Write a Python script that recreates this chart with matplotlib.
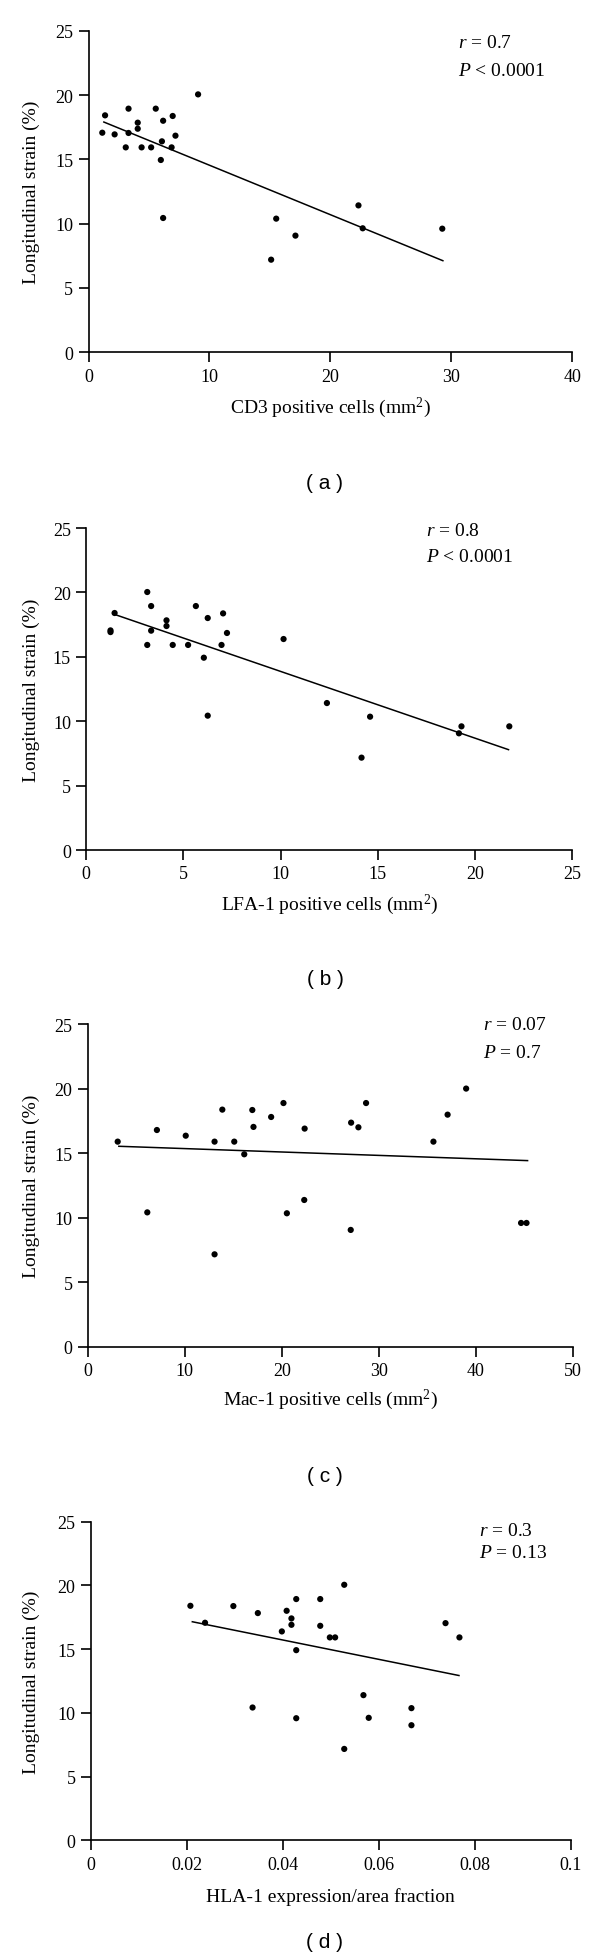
import matplotlib
matplotlib.use("Agg")
import matplotlib.pyplot as plt

plt.rcParams['font.family'] = ['Liberation Serif', 'DejaVu Serif']
plt.rcParams['mathtext.fontset'] = 'custom'
plt.rcParams['mathtext.rm'] = 'Liberation Serif'
plt.rcParams['mathtext.it'] = 'Liberation Serif:italic'

# ---- data ----
cd3_x = [1.14, 1.37, 2.16, 3.31, 3.31, 3.08, 4.07, 4.07, 4.39, 5.18, 5.56, 6.17, 6.07,
         5.98, 6.96, 7.19, 6.87, 6.17, 9.06, 15.52, 15.10, 17.11, 22.32, 22.67, 29.25]
cd3_y = [17.07, 18.42, 16.94, 18.94, 17.05, 15.93, 17.85, 17.38, 15.93, 15.93, 18.94, 18.0, 16.4,
         14.95, 18.37, 16.84, 15.93, 10.44, 20.05, 10.39, 7.20, 9.07, 11.42, 9.64, 9.61]
cd3_fit_x = [1.27, 29.3]
cd3_fit_y = [17.9, 7.12]

lfa_x = [1.25, 1.25, 1.46, 3.14, 3.34, 3.34, 3.14, 4.13, 4.13, 4.45, 5.24, 5.64, 6.25,
         6.05, 7.04, 7.24, 6.96, 6.25, 10.15, 12.38, 14.60, 14.16, 19.17, 19.30, 21.76]
lfa_y = [17.05, 16.92, 18.40, 20.03, 18.94, 17.03, 15.92, 17.83, 17.39, 15.92, 15.92, 18.94, 18.01,
         14.93, 18.37, 16.85, 15.92, 10.43, 16.38, 11.41, 10.35, 7.17, 9.06, 9.60, 9.60]
lfa_fit_x = [1.50, 21.72]
lfa_fit_y = [18.27, 7.79]

mac_x = [3.09, 6.14, 7.13, 10.10, 13.07, 13.87, 13.07, 15.10, 16.13, 16.96, 17.08, 18.90, 20.17,
         20.52, 22.35, 22.31, 27.14, 27.89, 27.10, 28.68, 35.62, 37.08, 38.99, 44.65, 45.21]
mac_y = [15.91, 10.43, 16.81, 16.37, 15.91, 18.39, 7.18, 15.91, 14.93, 18.36, 17.05, 17.82, 18.90,
         10.36, 16.92, 11.39, 17.38, 17.02, 9.07, 18.90, 15.91, 18.00, 20.02, 9.61, 9.61]
mac_fit_x = [3.21, 45.32]
mac_fit_y = [15.55, 14.44]

hla_x = [0.02075, 0.0238, 0.0297, 0.0348, 0.0337, 0.0398, 0.0408, 0.0418, 0.0418, 0.0428, 0.0428,
         0.0428, 0.0478, 0.0478, 0.0498, 0.0509, 0.0528, 0.0528, 0.0568, 0.0579, 0.0668, 0.0668,
         0.0739, 0.0768]
hla_y = [18.40, 17.07, 18.38, 17.83, 10.42, 16.39, 18.01, 17.41, 16.91, 18.93, 14.92,
         9.58, 18.93, 16.83, 15.92, 15.92, 20.05, 7.17, 11.39, 9.61, 10.37, 9.03,
         17.04, 15.92]
hla_fit_x = [0.02115, 0.0767]
hla_fit_y = [17.15, 12.93]

panel_labels = ['( a )', '( b )', '( c )', '( d )']
x_labels = ['CD3 positive cells (mm$^2$)', 'LFA-1 positive cells (mm$^2$)',
            'Mac-1 positive cells (mm$^2$)', 'HLA-1 expression/area fraction']
y_label = 'Longitudinal strain (%)'
r_texts = ['$r$ = 0.7', '$r$ = 0.8', '$r$ = 0.07', '$r$ = 0.3']
p_texts = ['$P$ < 0.0001', '$P$ < 0.0001', '$P$ = 0.7', '$P$ = 0.13']
x_ticks = [[0, 10, 20, 30, 40], [0, 5, 10, 15, 20, 25], [0, 10, 20, 30, 40, 50],
           [0, 0.02, 0.04, 0.06, 0.08, 0.1]]
x_ticklabels = [['0', '10', '20', '30', '40'], ['0', '5', '10', '15', '20', '25'],
                ['0', '10', '20', '30', '40', '50'], ['0', '0.02', '0.04', '0.06', '0.08', '0.1']]
y_ticks = [0, 5, 10, 15, 20, 25]

series = [(cd3_x, cd3_y, cd3_fit_x, cd3_fit_y), (lfa_x, lfa_y, lfa_fit_x, lfa_fit_y),
          (mac_x, mac_y, mac_fit_x, mac_fit_y), (hla_x, hla_y, hla_fit_x, hla_fit_y)]

# ---- layout (pixels) ----
W, H = 600, 1958
# left, right, top(y25), bottom(y0)
boxes = [(88.5, 572.3, 31.7, 353.3), (86.2, 572.3, 529.0, 851.0),
         (87.7, 573.0, 1025.3, 1348.0), (90.8, 570.8, 1522.7, 1841.3)]
xlabel_y = [408, 905, 1400, 1897]
panel_y = [484, 980, 1477, 1943]
r_pos = [(458, 43, 72), (426, 532, 558), (483, 1025, 1053), (479, 1531, 1554)]

fig = plt.figure(figsize=(W / 100, H / 100), dpi=100)
for i in range(4):
    l, r, t, b = boxes[i]
    ax = fig.add_axes([l / W, 1 - b / H, (r - l) / W, (b - t) / H])
    xs, ys, fx, fy = series[i]
    ax.scatter(xs, ys, s=20, color='black', edgecolors='none', zorder=3)
    ax.plot(fx, fy, color='black', lw=1.1)
    xt = x_ticks[i]
    ax.set_xlim(xt[0], xt[-1])
    ax.set_ylim(0, 25)
    ax.set_xticks(xt)
    ax.set_xticklabels(x_ticklabels[i])
    ax.set_yticks(y_ticks)
    for s in ['top', 'right']:
        ax.spines[s].set_visible(False)
    for s in ['left', 'bottom']:
        ax.spines[s].set_linewidth(1.2)
    ax.tick_params(direction='out', length=7, width=1.2, labelsize=13, pad=4)
    ax.set_xlabel(x_labels[i], fontsize=14)
    ax.xaxis.label.set_va('center')
    ax.xaxis.set_label_coords(0.5, (b - xlabel_y[i]) / (b - t))
    ax.set_ylabel(y_label, fontsize=14)
    ax.yaxis.label.set_va('center')
    ax.yaxis.set_label_coords((31.5 - l) / (r - l), 0.5)
    rx, ry, py = r_pos[i]
    fig.text(rx / W, 1 - ry / H, r_texts[i], fontsize=14, ha='left', va='center')
    fig.text(rx / W, 1 - py / H, p_texts[i], fontsize=14, ha='left', va='center')
    fig.text(325 / W, 1 - panel_y[i] / H, panel_labels[i], fontsize=15,
             family=['Liberation Sans', 'DejaVu Sans'], ha='center', va='center')

fig.savefig('out.png', dpi=100)
